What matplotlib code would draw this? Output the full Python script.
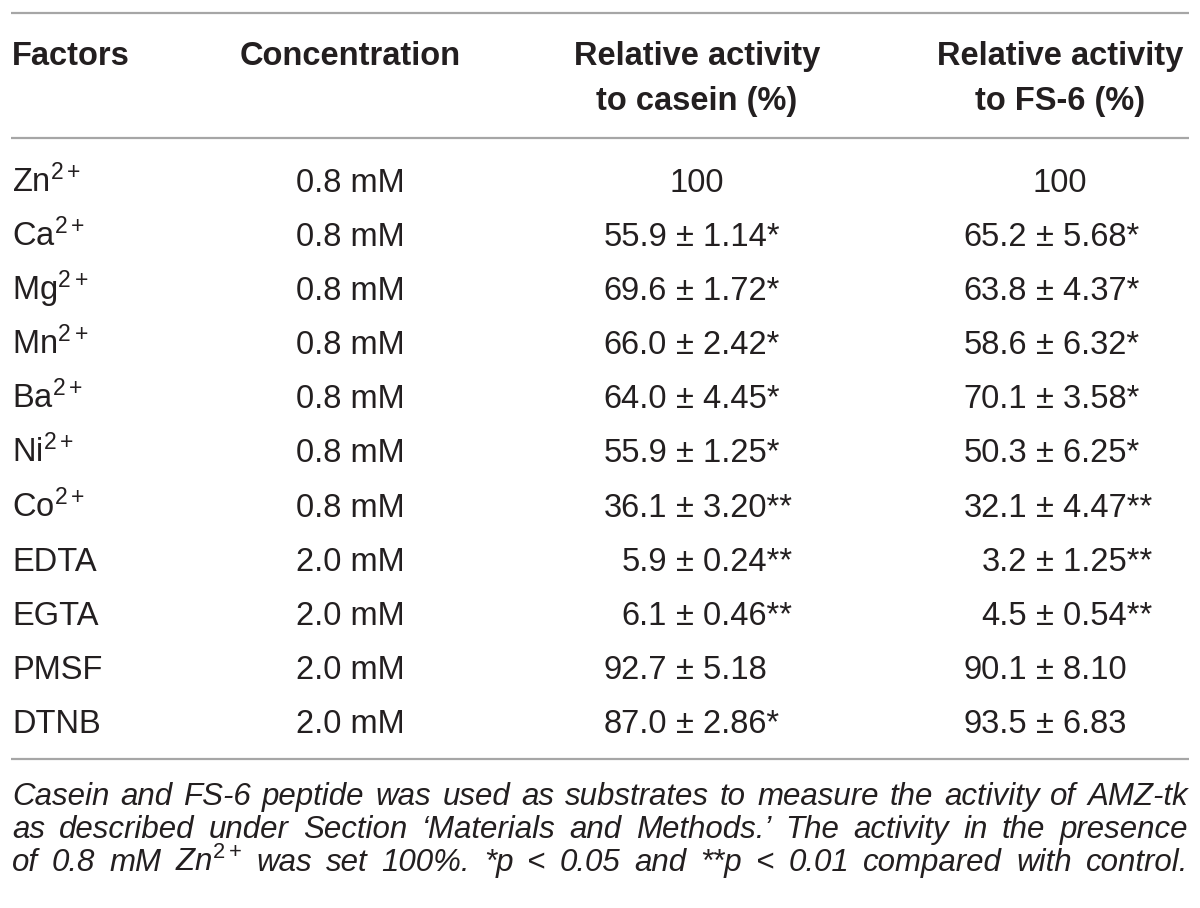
"""
Table: effect of metal ions and inhibitors on AMZ-tk activity.

Drawn as text on a blank axes that maps 1:1 onto the 1200x908 pixel canvas.
"""

import matplotlib
matplotlib.use('Agg')
import matplotlib.pyplot as plt

plt.rcParams['font.family'] = ['Liberation Sans', 'DejaVu Sans']
plt.rcParams['mathtext.fontset'] = 'custom'
plt.rcParams['mathtext.rm'] = 'Liberation Sans'
plt.rcParams['mathtext.it'] = 'Liberation Sans:italic'
plt.rcParams['mathtext.bf'] = 'Liberation Sans:bold'

# Table contents
headers = ['Factors', 'Concentration',
           'Relative activity\nto casein (%)', 'Relative activity\nto FS-6 (%)']
factors = [r'Zn$^{2+}$', r'Ca$^{2+}$', r'Mg$^{2+}$', r'Mn$^{2+}$', r'Ba$^{2+}$',
           r'Ni$^{2+}$', r'Co$^{2+}$', 'EDTA', 'EGTA', 'PMSF', 'DTNB']
concentrations = ['0.8 mM'] * 7 + ['2.0 mM'] * 4
casein_mean = [100, 55.9, 69.6, 66.0, 64.0, 55.9, 36.1, 5.9, 6.1, 92.7, 87.0]
casein_sd = [None, 1.14, 1.72, 2.42, 4.45, 1.25, 3.20, 0.24, 0.46, 5.18, 2.86]
casein_sig = ['', '*', '*', '*', '*', '*', '**', '**', '**', '', '*']
fs6_mean = [100, 65.2, 63.8, 58.6, 70.1, 50.3, 32.1, 3.2, 4.5, 90.1, 93.5]
fs6_sd = [None, 5.68, 4.37, 6.32, 3.58, 6.25, 4.47, 1.25, 0.54, 8.10, 6.83]
fs6_sig = ['', '*', '*', '*', '*', '*', '**', '**', '**', '', '']
footnote = [
    'Casein and FS-6 peptide was used as substrates to measure the activity of AMZ-tk',
    'as described under Section \u2018Materials and Methods.\u2019 The activity in the presence',
    r'of 0.8 mM Zn$^{2+}$ was set 100%. *p < 0.05 and **p < 0.01 compared with control.',
]

INK = '#231f20'
RULE = '#a6a6a6'
FS = 23.5

fig = plt.figure(figsize=(12, 9.08), dpi=100)
ax = fig.add_axes([0, 0, 1, 1])
ax.set_xlim(0, 1200)
ax.set_ylim(908, 0)
ax.axis('off')

# Horizontal rules
for y in (13, 138, 759):
    ax.hlines(y, 11, 1189, color=RULE, lw=1.6)

# Header
ax.text(12, 65, headers[0], fontsize=FS, fontweight='bold', color=INK,
        ha='left', va='baseline')
ax.text(350, 65, headers[1], fontsize=FS, fontweight='bold', color=INK,
        ha='center', va='baseline')
for xc, h in ((697, headers[2]), (1060, headers[3])):
    for k, line in enumerate(h.split('\n')):
        ax.text(xc, 65 + 45 * k, line, fontsize=FS, fontweight='bold',
                color=INK, ha='center', va='baseline')


def value_cell(xmean, xpm, xc, y, mean, sd, sig):
    if sd is None:
        ax.text(xc, y, f'{mean:.0f}', fontsize=FS, color=INK,
                ha='center', va='baseline')
        return
    ax.text(xmean, y, f'{mean:.1f}', fontsize=FS, color=INK,
            ha='right', va='baseline')
    ax.text(xpm, y, f'\u00b1 {sd:.2f}{sig}', fontsize=FS, color=INK,
            ha='left', va='baseline')


# Body rows
y0, dy = 192, 54.1
for i, f in enumerate(factors):
    y = y0 + i * dy
    ax.text(12, y, f, fontsize=FS, color=INK, ha='left', va='baseline')
    ax.text(350, y, concentrations[i], fontsize=FS, color=INK,
            ha='center', va='baseline')
    value_cell(667, 676, 697, y, casein_mean[i], casein_sd[i], casein_sig[i])
    value_cell(1027, 1036, 1060, y, fs6_mean[i], fs6_sd[i], fs6_sig[i])

# Footnote, justified to the table width
renderer = fig.canvas.get_renderer()
for k, line in enumerate(footnote):
    y = 805 + 33 * k
    words = line.split(' ')
    texts = [ax.text(0, y, w, fontsize=22.5, style='italic', color=INK,
                     ha='left', va='baseline') for w in words]
    widths = [t.get_window_extent(renderer).width for t in texts]
    gap = (1188 - 12 - sum(widths)) / (len(words) - 1)
    x = 12
    for t, w in zip(texts, widths):
        t.set_x(x)
        x += w + gap

fig.savefig('out.png', dpi=100, facecolor='white')
